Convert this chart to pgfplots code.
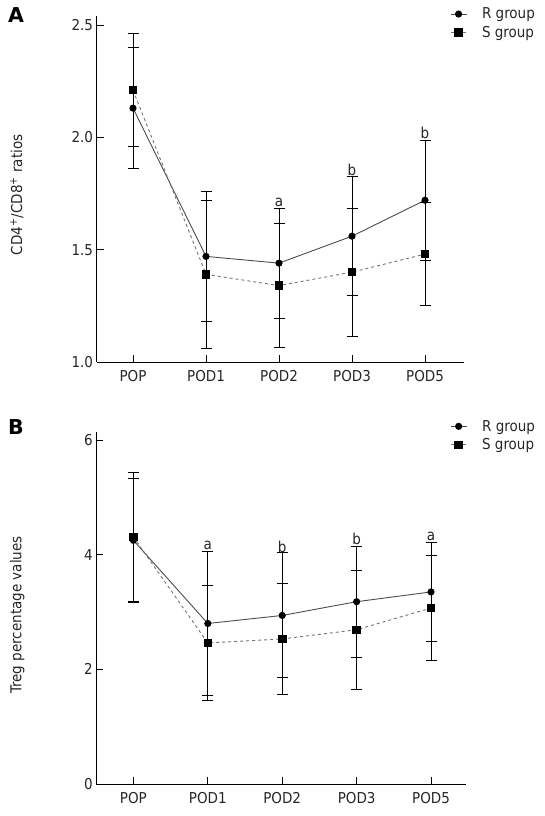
\documentclass[border=0pt]{standalone}
\usepackage{pgfplots}
\pgfplotsset{compat=1.18}
\usepackage{fontspec}
\setmainfont{DejaVu Sans Condensed}
\newfontfamily\boldfont{DejaVu Sans}
\definecolor{rline}{gray}{0.3}
\definecolor{sline}{gray}{0.45}
\pgfplotstableread{
x y e
0 2.13 0.27
1 1.47 0.29
2 1.44 0.245
3 1.56 0.265
4 1.72 0.267
}\topR
\pgfplotstableread{
x y e
0 2.21 0.25
1 1.39 0.33
2 1.34 0.275
3 1.40 0.285
4 1.48 0.23
}\topS
\pgfplotstableread{
x y e
0 4.25 1.075
1 2.80 1.26
2 2.94 1.09
3 3.18 0.965
4 3.35 0.865
}\botR
\pgfplotstableread{
x y e
0 4.31 1.12
1 2.46 1.00
2 2.53 0.97
3 2.69 1.035
4 3.07 0.92
}\botS
\begin{document}
\begin{tikzpicture}
\path[use as bounding box] (0pt,0pt) rectangle (545pt,816pt);
\pgfplotsset{
  myaxis/.style={
    scale only axis,
    axis x line*=bottom, axis y line*=left,
    xtick={0,...,4}, xticklabels={POP,POD1,POD2,POD3,POD5},
    tick align=inside, major tick length=7pt,
    tick style={black, line width=0.8pt},
    axis line style={black, line width=0.8pt},
    every tick label/.append style={font=\fontsize{15}{18}\selectfont, text=black!85},
    xticklabel style={yshift=-5pt},
    /pgf/number format/assume math mode=true,
    clip=false,
    legend style={draw=none, fill=none, inner sep=0pt, font=\fontsize{15}{17}\selectfont, text=black!85, row sep=2pt,
      /tikz/every odd column/.append style={column sep=13pt}},
    legend cell align=left,
    legend image code/.code={\draw[mark repeat=2, mark phase=2, ##1] plot coordinates {(0pt,0pt) (8pt,0pt) (16pt,0pt)};},
  },
  rstyle/.style={color=rline, line width=0.9pt, mark=*, mark size=3.1pt, mark options={solid, fill=black, draw=black}},
  sstyle/.style={color=sline, line width=0.9pt, dashed, mark=square*, mark size=3.8pt, mark options={solid, fill=black, draw=black}},
  ebar/.style={error bars/.cd, y dir=both, y explicit,
    error bar style={black, solid, line width=0.95pt},
    error mark options={rotate=90, mark size=5.5pt, line width=0.95pt, black, solid}},
}
% Top panel
\begin{axis}[myaxis,
  at={(96.5pt,454pt)}, anchor=south west,
  width=367.2pt, height=346pt,
  xmin=-0.5, xmax=4.53, ymin=1, ymax=2.54,
  ytick={1,1.5,2,2.5},
  yticklabel style={/pgf/number format/.cd, fixed, fixed zerofill, precision=1},
  ylabel={CD4\textsuperscript{+}/CD8\textsuperscript{+} ratios},
  every axis y label/.style={at={(axis description cs:-0.217,0.483)}, rotate=90, anchor=center, font=\fontsize{15}{18}\selectfont, text=black!85},
  legend style={at={(axis description cs:0.9625,1.03)}, anchor=north west},
]
\addplot[rstyle, ebar] table[x=x, y=y, y error=e] {\topR};
\addlegendentry{R group}
\addplot[sstyle, ebar] table[x=x, y=y, y error=e] {\topS};
\addlegendentry{S group}
\node[anchor=south, inner sep=1pt, font=\fontsize{15}{18}\selectfont, text=black!85] at (axis cs:2,1.684) {a};
\node[anchor=south, inner sep=1pt, font=\fontsize{15}{18}\selectfont, text=black!85] at (axis cs:3,1.824) {b};
\node[anchor=south, inner sep=1pt, font=\fontsize{15}{18}\selectfont, text=black!85] at (axis cs:4,1.987) {b};
\end{axis}
% Bottom panel
\begin{axis}[myaxis,
  at={(96.2pt,32pt)}, anchor=south west,
  width=369.5pt, height=352pt,
  xmin=-0.5, xmax=4.466, ymin=0, ymax=6.14,
  ytick={0,2,4,6},
  ylabel={Treg percentage values},
  every axis y label/.style={at={(axis description cs:-0.2135,0.48)}, rotate=90, anchor=center, font=\fontsize{15}{18}\selectfont, text=black!85},
  legend style={at={(axis description cs:0.9575,1.04)}, anchor=north west},
]
\addplot[rstyle, ebar] table[x=x, y=y, y error=e] {\botR};
\addlegendentry{R group}
\addplot[sstyle, ebar] table[x=x, y=y, y error=e] {\botS};
\addlegendentry{S group}
\node[anchor=south, inner sep=1pt, font=\fontsize{15}{18}\selectfont, text=black!85] at (axis cs:1,4.06) {a};
\node[anchor=south, inner sep=1pt, font=\fontsize{15}{18}\selectfont, text=black!85] at (axis cs:2,4.02) {b};
\node[anchor=south, inner sep=1pt, font=\fontsize{15}{18}\selectfont, text=black!85] at (axis cs:3,4.145) {b};
\node[anchor=south, inner sep=1pt, font=\fontsize{15}{18}\selectfont, text=black!85] at (axis cs:4,4.22) {a};
\end{axis}
\node[font=\boldfont\bfseries\fontsize{20.5}{20.5}\selectfont] at (16pt,800.5pt) {A};
\node[font=\boldfont\bfseries\fontsize{20.5}{20.5}\selectfont] at (16pt,388.5pt) {B};
\end{tikzpicture}
\end{document}
